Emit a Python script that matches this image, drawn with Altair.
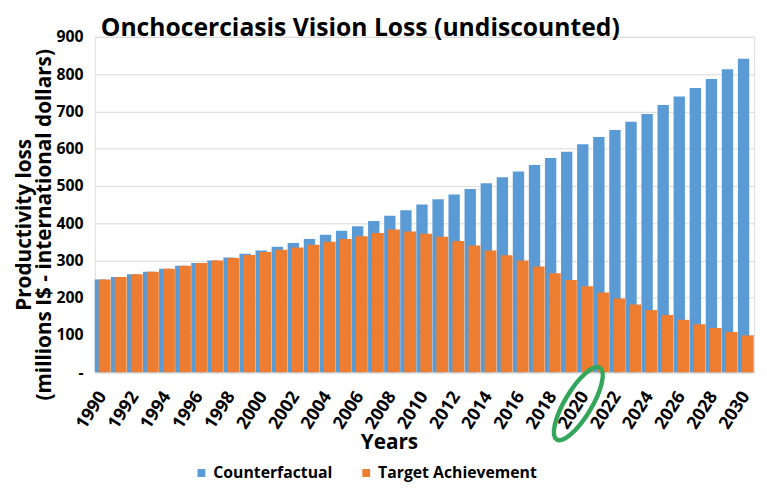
import altair as alt
import pandas as pd

years = [str(y) for y in range(1990, 2031)]
counterfactual = [249, 256, 263, 270, 278, 286, 293, 300, 308, 318,
                  327, 337, 347, 358, 369, 380, 392, 406, 420, 435,
                  450, 464, 477, 492, 507, 523, 539, 556, 575, 592,
                  612, 631, 650, 672, 693, 717, 740, 763, 787, 813, 841]
target = [249, 256, 263, 270, 278, 286, 293, 300, 307, 315,
          323, 329, 335, 342, 350, 358, 365, 374, 383, 378,
          372, 364, 352, 340, 327, 314, 300, 284, 266, 248,
          231, 214, 198, 182, 167, 154, 141, 129, 119, 108, 99]
series_names = ["Counterfactual", "Target Achievement"]
colors = ["#5b9bd5", "#ed7d31"]
tick_years = [str(y) for y in range(1990, 2031, 2)]
y_ticks = list(range(0, 901, 100))
highlight_year = ["2020"]
highlight_pos = [-84]

df = pd.DataFrame({
    "year": years + years,
    "value": counterfactual + target,
    "series": [series_names[0]] * len(years) + [series_names[1]] * len(years),
})
ann = pd.DataFrame({"year": highlight_year, "value": highlight_pos,
                    "series": [series_names[0]]})

FONT = "Open Sans"

color = alt.Color(
    "series:N",
    scale=alt.Scale(domain=series_names, range=colors),
    legend=alt.Legend(
        title=None, orient="none", direction="horizontal",
        legendX=100, legendY=434, symbolType="square", symbolSize=64,
        symbolStrokeWidth=0, labelFont=FONT, labelFontWeight="bold",
        labelFontSize=16, labelColor="black", labelLimit=0,
        columnPadding=26, padding=0,
    ),
)

x = alt.X(
    "year:O",
    scale=alt.Scale(domain=years, paddingInner=0, paddingOuter=0),
    axis=alt.Axis(
        values=tick_years, labelAngle=-57, labelFont=FONT, labelFontSize=18,
        labelFontWeight="bold", labelColor="black", ticks=False,
        domainColor="#d9d9d9", labelPadding=21, labelOverlap=False,
        title="Years", titleFont=FONT, titleFontSize=21, titleFontWeight="bold",
        titleColor="black", titleX=298, titlePadding=0,
    ),
)

y = alt.Y(
    "value:Q",
    scale=alt.Scale(domain=[0, 900], nice=False),
    axis=alt.Axis(
        values=y_ticks, tickCount=10, labelOverlap=False,
        labelExpr="datum.value == 0 ? '-' : datum.label",
        grid=True, gridColor="#d9d9d9", domain=False, ticks=False,
        labelFont=FONT, labelFontSize=16, labelFontWeight="bold",
        labelColor="black", labelPadding=12,
        title=["Productivity loss", "(millions I$ - international dollars)"],
        titleFont=FONT, titleFontSize=21, titleFontWeight="bold",
        titleColor="black", titlePadding=2, titleLineHeight=20, titleY=190,
    ),
)

blue = alt.Chart(df).transform_filter(
    alt.datum.series == series_names[0]
).mark_bar(width=11.5, xOffset=-2.5).encode(x=x, y=y, color=color)

orange = alt.Chart(df).transform_filter(
    alt.datum.series == series_names[1]
).mark_bar(width=12, xOffset=1.75).encode(x=x, y=y, color=color)

ellipse_path = ("M 0 -1 C 0.1767 -1 0.32 -0.5523 0.32 0 "
                "C 0.32 0.5523 0.1767 1 0 1 "
                "C -0.1767 1 -0.32 0.5523 -0.32 0 "
                "C -0.32 -0.5523 -0.1767 -1 0 -1 Z")
ellipse = alt.Chart(ann).mark_point(
    shape=ellipse_path, size=7200, angle=31, filled=False,
    stroke="#33a65b", strokeWidth=4.5, opacity=1, xOffset=-7,
).encode(x=x, y=y)

chart = alt.layer(blue, orange, ellipse).properties(
    width=668, height=340,
    title=alt.TitleParams(
        text="Onchocerciasis Vision Loss (undiscounted)", font=FONT,
        fontSize=25, fontWeight="bold", color="black", anchor="start",
        frame="group", dx=6, offset=-12,
    ),
).configure_view(stroke=None).configure(background="white")

chart.save("out.html", embed_options={"renderer": "svg", "actions": False})
